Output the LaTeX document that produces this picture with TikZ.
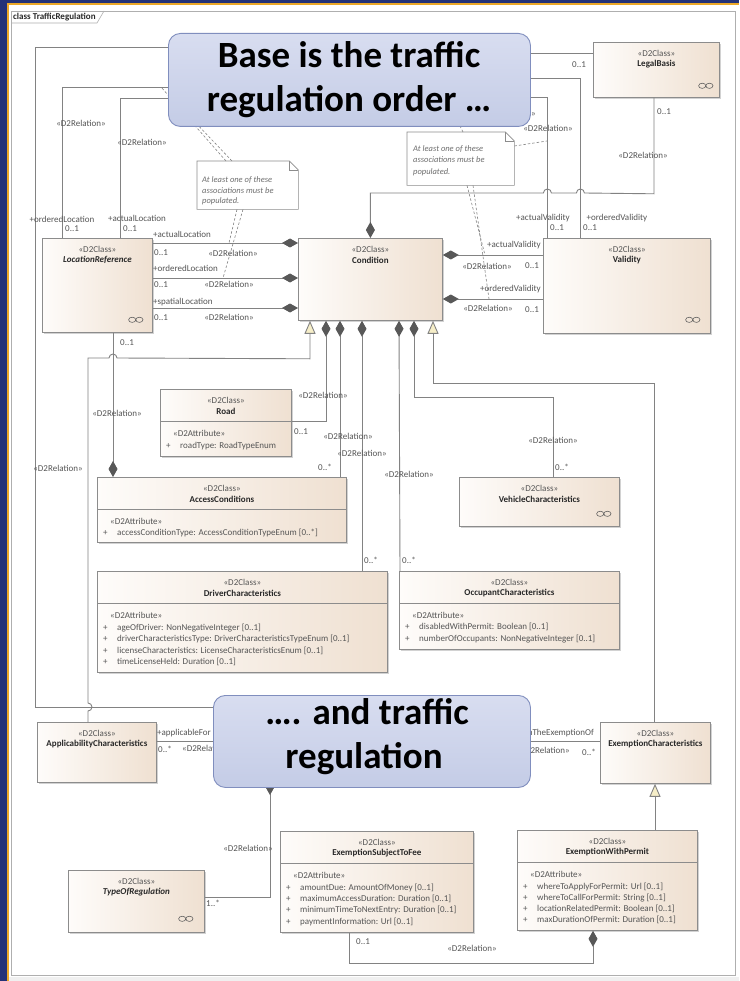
\documentclass[tikz,border=0pt]{standalone}
\usepackage{fontspec}
\setmainfont{Carlito}
\usetikzlibrary{arrows.meta,shadows,calc}
\definecolor{navyC}{RGB}{36,50,120}
\definecolor{orangeC}{RGB}{236,168,40}
\definecolor{frameC}{RGB}{175,175,175}
\definecolor{lineC}{RGB}{130,130,130}
\definecolor{diamC}{RGB}{88,88,88}
\definecolor{genC}{RGB}{246,238,200}
\definecolor{clsL}{RGB}{254,252,250}
\definecolor{clsR}{RGB}{239,224,209}
\definecolor{clsB}{RGB}{140,140,140}
\definecolor{txtC}{RGB}{85,85,85}
\definecolor{nameC}{RGB}{40,40,40}
\definecolor{noteT}{RGB}{110,110,110}
\definecolor{coTop}{RGB}{216,221,240}
\definecolor{coBot}{RGB}{196,204,230}
\definecolor{coB}{RGB}{128,142,190}
\tikzset{
 conn/.style={draw=lineC, line width=0.9pt},
 comps/.style={conn, {Diamond[length=16pt,width=9pt,color=diamC]}-},
 compe/.style={conn, -{Diamond[length=16pt,width=9pt,color=diamC]}},
 gens/.style={conn, {Triangle[length=13pt,width=11pt,fill=genC]}-},
 gene/.style={conn, -{Triangle[length=13pt,width=11pt,fill=genC]}},
 clsbox/.style={draw=clsB, line width=0.8pt, left color=clsL, right color=clsR, inner sep=0pt,
   drop shadow={shadow xshift=1.6pt, shadow yshift=-1.6pt, opacity=0.35}},
 lbl/.style={font=\fontsize{9}{10}\selectfont, text=txtC, inner sep=0pt},
 cname/.style={font=\fontsize{9}{10}\selectfont\bfseries, text=nameC, inner sep=0pt},
 notetxt/.style={font=\fontsize{8.5}{10}\selectfont\itshape, text=noteT, inner sep=0pt, anchor=west},
 notedraw/.style={draw=clsB, line width=0.6pt},
 notelink/.style={draw=lineC, line width=0.6pt, dash pattern=on 2.5pt off 2pt},
 callbox/.style={draw=coB, line width=0.9pt, rounded corners=12pt, top color=coTop, bottom color=coBot, inner sep=0pt},
 ctext/.style={font=\fontsize{37}{44}\selectfont\bfseries, text=black, inner sep=0pt, anchor=base},
 icon/.style={draw=diamC, line width=0.55pt},
}
\newcommand{\umlcls}[6]{%
  \node[clsbox, minimum width=#4pt, minimum height=#5pt, anchor=north west] (#1) at (#2,#3) {};
  \node[lbl] (#1-st) at ($(#1.north)+(0,11)$) {«D2Class»};
  \node[cname] (#1-nm) at ($(#1.north)+(0,22)$) {#6};
}
\newcommand{\umlcomp}[1]{%
  \draw[draw=clsB, line width=0.8pt] ($(#1.north west)+(0,32)$) -- ($(#1.north east)+(0,32)$);
  \node[lbl, anchor=west] (#1-ah) at ($(#1.north west)+(13,44)$) {«D2Attribute»};
}
\newcommand{\uattr}[4]{%
  \node[lbl, anchor=west] (#1-p#2) at ($(#1.north west)+(6,#3)$) {+};
  \node[lbl, anchor=west] (#1-a#2) at ($(#1.north west)+(20,#3)$) {#4};
}
\newcommand{\linkicon}[3]{%
  \draw[icon] ($(#1.south east)+(#2-3.6,#3)$) ellipse [x radius=3.6pt, y radius=2.6pt]
              ($(#1.south east)+(#2+3.6,#3)$) ellipse [x radius=3.6pt, y radius=2.6pt];
}
\newcommand{\dlab}[4][center]{\node[lbl, anchor=#1] (#2) at (#3) {#4};}
\begin{document}
\begin{tikzpicture}[x=1pt,y=-1pt]
\useasboundingbox (0,0) rectangle (739,981);
% background and frame
\fill[navyC] (0,0) rectangle (739,981);
\fill[orangeC] (7,3) rectangle (739,981);
\fill[white] (9,5) rectangle (739,981);
\fill[black!6] (9,977) rectangle (739,981);
\draw[frameC, line width=0.6pt] (11,11) rectangle (735,975);
\draw[frameC, line width=0.6pt] (11,23) -- (97,23) -- (104,11);
\node[cname, anchor=west] (title) at (13,17) {class TrafficRegulation};

% classes
\umlcls{lb}{593}{42}{126}{55}{LegalBasis}
\umlcls{loc}{42}{238}{110}{94}{\itshape LocationReference}
\umlcls{cond}{298}{238}{144}{82}{Condition}
\umlcls{val}{543}{238}{167}{95}{Validity}
\umlcls{road}{160}{389}{131}{67}{Road}
\umlcls{acc}{97}{477}{249}{65}{AccessConditions}
\umlcls{veh}{459}{477}{160}{49}{VehicleCharacteristics}
\umlcls{drv}{97}{571}{290}{101}{DriverCharacteristics}
\umlcls{occ}{399}{571}{220}{78}{OccupantCharacteristics}
\umlcls{app}{37}{722}{119}{60}{ApplicabilityCharacteristics}
\umlcls{exc}{600}{722}{110}{61}{ExemptionCharacteristics}
\umlcls{tor}{68}{870}{136}{62}{\itshape TypeOfRegulation}
\umlcls{estf}{280}{831}{193}{101}{ExemptionSubjectToFee}
\umlcls{ewp}{517}{830}{180}{100}{ExemptionWithPermit}

\umlcomp{road}
\uattr{road}{1}{57}{roadType: RoadTypeEnum}
\umlcomp{acc}
\uattr{acc}{1}{56}{accessConditionType: AccessConditionTypeEnum [0..*]}
\umlcomp{drv}
\uattr{drv}{1}{57}{ageOfDriver: NonNegativeInteger [0..1]}
\uattr{drv}{2}{68}{driverCharacteristicsType: DriverCharacteristicsTypeEnum [0..1]}
\uattr{drv}{3}{80}{licenseCharacteristics: LicenseCharacteristicsEnum [0..1]}
\uattr{drv}{4}{91}{timeLicenseHeld: Duration [0..1]}
\umlcomp{occ}
\uattr{occ}{1}{56}{disabledWithPermit: Boolean [0..1]}
\uattr{occ}{2}{68}{numberOfOccupants: NonNegativeInteger [0..1]}
\umlcomp{estf}
\uattr{estf}{1}{57}{amountDue: AmountOfMoney [0..1]}
\uattr{estf}{2}{68}{maximumAccessDuration: Duration [0..1]}
\uattr{estf}{3}{79}{minimumTimeToNextEntry: Duration [0..1]}
\uattr{estf}{4}{91}{paymentInformation: Url [0..1]}
\umlcomp{ewp}
\uattr{ewp}{1}{57}{whereToApplyForPermit: Url [0..1]}
\uattr{ewp}{2}{68}{whereToCallForPermit: String [0..1]}
\uattr{ewp}{3}{79}{locationRelatedPermit: Boolean [0..1]}
\uattr{ewp}{4}{90}{maxDurationOfPermit: Duration [0..1]}

\linkicon{lb}{-14}{-12}
\linkicon{loc}{-17}{-13}
\linkicon{val}{-18}{-14}
\linkicon{veh}{-16}{-13}
\linkicon{tor}{-19}{-14}

% hidden end points (under the callouts)
\coordinate (hA) at (250,87);
\coordinate (hB) at (250,98);
\coordinate (hC) at (480,97);
\coordinate (hD) at (480,78);
\coordinate (hE) at (250,47);
\coordinate (hF) at (300,707);
\coordinate (hG) at (420,53);
\coordinate (hH) at (270,779);

% connectors
\draw[conn] ($(lb.north west)+(0,11)$) -- (hG);
\draw[conn] (hE) -- (35,47) -- (35,707) -- (hF);
\draw[conn] ($(loc.north west)+(20,0)$) |- (hA);
\draw[conn] ($(loc.north west)+(78,0)$) |- (hB);
\draw[conn] ($(val.north west)+(4,0)$) |- (hC);
\draw[conn] ($(val.north west)+(37,0)$) |- (hD);
\draw[comps] (cond.north) -- ++(0,-45) -- ++(173,0) arc[start angle=180,end angle=0,radius=4pt]
  -- ++(25,0) arc[start angle=180,end angle=0,radius=4pt]
  -- ($(lb.south west)+(61,96)$) -- ($(lb.south west)+(61,0)$);
\draw[comps] ($(cond.north west)+(0,5)$) -- ($(loc.north east)+(0,5)$);
\draw[comps] ($(cond.north west)+(0,40)$) -- ($(loc.north east)+(0,40)$);
\draw[comps] ($(cond.north west)+(0,70)$) -- ($(loc.north east)+(0,70)$);
\draw[comps] ($(cond.north east)+(0,17)$) -- ($(val.north west)+(0,17)$);
\draw[comps] ($(cond.north east)+(0,61)$) -- ($(val.north west)+(0,61)$);
\draw[gene] ($(app.north west)+(51,0)$) -- ++(0,-11) arc[start angle=-90,end angle=90,radius=4pt]
  -- ++(0,-345) -- ++(21,0) arc[start angle=180,end angle=0,radius=4pt]
  -- ($(cond.south west)+(12,38)$) -- ($(cond.south west)+(12,0)$);
\draw[compe] ($(loc.south west)+(71,0)$) -- ($(acc.north west)+(16,0)$);
\draw[comps] ($(cond.south west)+(28,0)$) |- ($(road.north east)+(0,32)$);
\draw[comps] ($(cond.south west)+(42,0)$) -- ($(acc.north west)+(243,0)$);
\draw[comps] ($(cond.south west)+(64,0)$) -- ($(drv.north west)+(265,0)$);
\draw[comps] ($(cond.south west)+(101,0)$) -- ($(occ.north west)+(1,0)$);
\draw[comps] ($(cond.south west)+(116,0)$) -- ++(0,77) -| ($(veh.north west)+(94,0)$);
\draw[gens] ($(cond.south west)+(135,0)$) -- ++(0,63) -| ($(exc.north west)+(54,0)$);
\draw[conn] ($(app.north east)+(0,19)$) -- ($(exc.north west)+(0,19)$);
\draw[comps] (hH) |- ($(tor.north east)+(0,27)$);
\draw[comps] ($(ewp.south west)+(76,0)$) -- ++(0,33) -| ($(estf.south west)+(69,0)$);
\draw[gene] ($(ewp.north west)+(138,0)$) -- ($(exc.south west)+(55,0)$);

% notes
\node[inner sep=0pt, minimum width=101pt, minimum height=48pt, anchor=north west] (n1) at (197,161) {};
\filldraw[notedraw, fill=white] (n1.north west) -- ($(n1.north east)+(-9,0)$) -- ($(n1.north east)+(0,9)$) -- (n1.south east) -- (n1.south west) -- cycle;
\draw[notedraw] ($(n1.north east)+(-9,0)$) -- ($(n1.north east)+(-9,9)$) -- ($(n1.north east)+(0,9)$);
\node[notetxt] (n1-t1) at (202,180) {At least one of these};
\node[notetxt] (n1-t2) at (202,191) {associations must be};
\node[notetxt] (n1-t3) at (202,201) {populated.};
\node[inner sep=0pt, minimum width=107pt, minimum height=53pt, anchor=north west] (n2) at (407,132) {};
\filldraw[notedraw, fill=white] (n2.north west) -- ($(n2.north east)+(-9,0)$) -- ($(n2.north east)+(0,9)$) -- (n2.south east) -- (n2.south west) -- cycle;
\draw[notedraw] ($(n2.north east)+(-9,0)$) -- ($(n2.north east)+(-9,9)$) -- ($(n2.north east)+(0,9)$);
\node[notetxt] (n2-t1) at (413,149) {At least one of these};
\node[notetxt] (n2-t2) at (413,160) {associations must be};
\node[notetxt] (n2-t3) at (413,172) {populated.};
\coordinate (nA) at (161,87);
\coordinate (nB) at (174,100);
\coordinate (nC) at (229,243);
\coordinate (nD) at (223,278);
\coordinate (nE) at (485,255);
\coordinate (nF) at (489,299);
\coordinate (nG) at (452,110);
\coordinate (nH) at (547,141);
\draw[notelink] ($(n1.north west)+(29,0)$) -- (nA);
\draw[notelink] ($(n1.north west)+(35,0)$) -- (nB);
\draw[notelink] ($(n1.south west)+(40,0)$) -- (nC);
\draw[notelink] ($(n1.south west)+(46,0)$) -- (nD);
\draw[notelink] ($(n2.south west)+(60,0)$) -- (nE);
\draw[notelink] ($(n2.south west)+(66,0)$) -- (nF);
\draw[notelink] ($(n2.north west)+(56,0)$) -- (nG);
\draw[notelink] ($(n2.north east)+(0,14)$) -- (nH);

% labels
\dlab{l1}{81,123}{«D2Relation»}
\dlab{l2}{142,142}{«D2Relation»}
\dlab{l3}{62,219}{+orderedLocation}
\dlab[west]{l4}{65,229}{0..1}
\dlab{l5}{137,218}{+actualLocation}
\dlab[west]{l6}{123,229}{0..1}
\dlab[west]{l7}{153,234}{+actualLocation}
\dlab[west]{l8}{154,253}{0..1}
\dlab{l9}{233,253}{«D2Relation»}
\dlab[west]{l10}{153,268}{+orderedLocation}
\dlab[west]{l11}{154,285}{0..1}
\dlab{l12}{229,284}{«D2Relation»}
\dlab[west]{l13}{153,302}{+spatialLocation}
\dlab[west]{l14}{154,318}{0..1}
\dlab{l15}{229,317}{«D2Relation»}
\dlab[west]{l16}{120,343}{0..1}
\dlab{l17}{117,413}{«D2Relation»}
\dlab{l18}{58,468}{«D2Relation»}
\dlab[west]{r1}{572,65}{0..1}
\dlab[west]{r2}{657,112}{0..1}
\dlab{r3}{643,155}{«D2Relation»}
\dlab{r4}{548,128}{«D2Relation»}
\dlab[east]{r5}{536,113}{«D2Relation»}
\dlab{r6}{543,218}{+actualValidity}
\dlab[west]{r7}{550,228}{0..1}
\dlab{r8}{617,218}{+orderedValidity}
\dlab[west]{r9}{583,228}{0..1}
\dlab[east]{r10}{541,245}{+actualValidity}
\dlab{r11}{487,266}{«D2Relation»}
\dlab[west]{r12}{525,266}{0..1}
\dlab[east]{r13}{541,289}{+orderedValidity}
\dlab{r14}{488,308}{«D2Relation»}
\dlab[west]{r15}{525,310}{0..1}
\dlab{m1}{323,395}{«D2Relation»}
\dlab[west]{m2}{294,432}{0..1}
\dlab{m3}{348,436}{«D2Relation»}
\dlab{m4}{325,467}{0..*}
\dlab{m5}{362,453}{«D2Relation»}
\dlab[west]{m6}{364,560}{0..*}
\dlab{m7}{409,474}{«D2Relation»}
\dlab[west]{m8}{402,560}{0..*}
\dlab{m9}{553,440}{«D2Relation»}
\dlab[west]{m10}{555,467}{0..*}
\dlab[west]{b1}{157,733}{+applicableFor}
\dlab[west]{b2}{158,749}{0..*}
\dlab[west]{b3}{182,748}{«D2Relation»}
\dlab[east]{b4}{594,733}{withTheExemptionOf}
\dlab[east]{b5}{570,750}{«D2Relation»}
\dlab[west]{b6}{582,752}{0..*}
\dlab{b7}{248,848}{«D2Relation»}
\dlab[west]{b8}{206,903}{1..*}
\dlab[west]{b9}{356,942}{0..1}
\dlab{b10}{472,948}{«D2Relation»}

% callouts
\node[callbox, minimum width=362pt, minimum height=93pt, anchor=north west] (co1) at (168,33) {};
\node[ctext] (co1-a) at (349,68) {Base is the traffic};
\node[ctext] (co1-b) at (349,112) {regulation order …};
\node[callbox, minimum width=317pt, minimum height=92pt, anchor=north west] (co2) at (213,695) {};
\node[ctext] (co2-a) at (367,724) {…. and traffic};
\node[ctext] (co2-b) at (364,768) {regulation};
\end{tikzpicture}
\end{document}
